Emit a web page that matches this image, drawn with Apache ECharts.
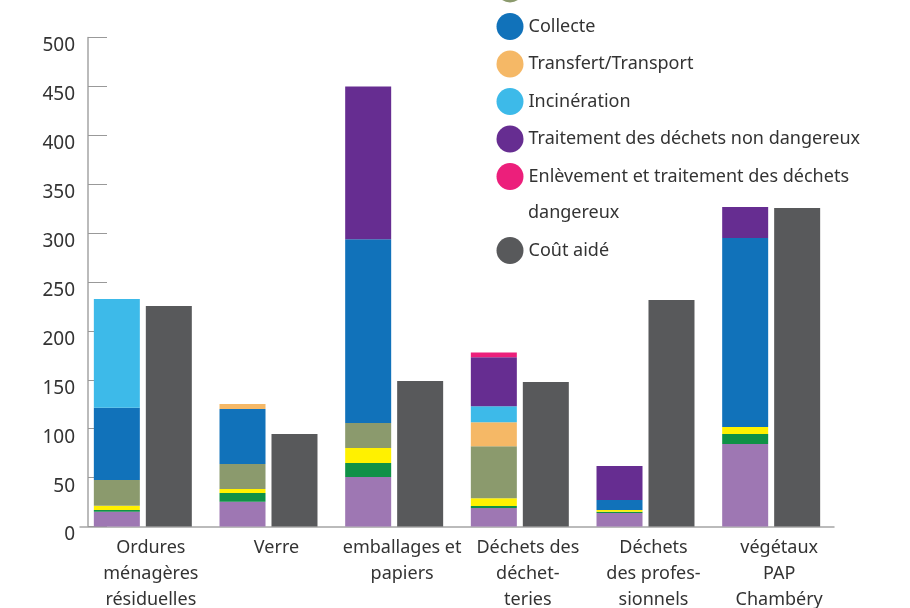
<!DOCTYPE html>
<html>
<head>
<meta charset="utf-8">
<script src="https://cdn.jsdelivr.net/npm/echarts@6/dist/echarts.min.js"></script>
<style>
  html, body { margin: 0; padding: 0; background: #fff; }
  #chart { width: 910px; height: 608px; }
</style>
</head>
<body>
<div id="chart"></div>
<script>
// catégories (axe des x)
var categories = [
  "Ordures\nménagères\nrésiduelles",
  "Verre",
  "emballages et\npapiers",
  "Déchets des\ndéchet-\nteries",
  "Déchets\ndes profes-\nsionnels",
  "végétaux\nPAP\nChambéry"
];

// postes de coût empilés (de bas en haut)
var structure     = [15.1, 25.4, 50.6, 18.9, 13.8, 84.4];
var communication = [1.8, 8.9, 14.3, 2.0, 1.3, 10.2];
var prevention    = [4.4, 4.0, 15.4, 8.0, 1.8, 7.1];
var precollecte   = [26.2, 25.6, 25.5, 53.2, 0, 0];
var collecte      = [74.0, 56.2, 188.0, 0, 10.2, 193.3];
var transfert     = [0, 5.2, 0, 24.5, 0, 0];
var incineration  = [111.0, 0, 0, 16.4, 0, 0];
var traitementND  = [0, 0, 156.0, 50.0, 34.8, 31.7];
var dangereux     = [0, 0, 0, 5.0, 0, 0];
// coût aidé
var coutAide      = [225.5, 94.6, 148.8, 147.7, 231.6, 325.7];

var yTicks = { min: 0, max: 500, interval: 50 };

var stacked = [
  { name: "Charges de structure", data: structure, color: "#9e77b3" },
  { name: "Communication", data: communication, color: "#0f9146" },
  { name: "Prévention", data: prevention, color: "#fff100" },
  { name: "Pré-collecte", data: precollecte, color: "#8b9a6d" },
  { name: "Collecte", data: collecte, color: "#1172ba" },
  { name: "Transfert/Transport", data: transfert, color: "#f5b866" },
  { name: "Incinération", data: incineration, color: "#3dbae9" },
  { name: "Traitement des déchets non dangereux", data: traitementND, color: "#662d91" },
  { name: "Enlèvement et traitement des déchets dangereux", data: dangereux, color: "#ec1f7b" }
];

var font = "Noto Sans";
var textColor = "#333";
var axisColor = "#a5a5a5";

var series = stacked.map(function (s) {
  return {
    name: s.name,
    type: "bar",
    stack: "cout",
    data: s.data,
    barWidth: 46,
    barGap: "13%",
    itemStyle: { color: s.color },
    emphasis: { disabled: true }
  };
});
series.push({
  name: "Coût aidé",
  type: "bar",
  data: coutAide,
  barWidth: 46,
  barGap: "13%",
  itemStyle: { color: "#58595b" },
  emphasis: { disabled: true }
});

var chart = echarts.init(document.getElementById("chart"));

var legendText = { fontFamily: font, fontSize: 18, color: "#333" };

var option = {
  animation: false,
  textStyle: { fontFamily: font },
  grid: { left: 80, right: 76, top: 37.5, bottom: 81.5, outerBoundsMode: "none" },
  legend: [
    {
      orient: "vertical",
      left: 496.5,
      top: -24.5,
      padding: 0,
      icon: "circle",
      itemWidth: 27,
      itemHeight: 27,
      itemGap: 10.5,
      data: stacked.slice(3).map(function (s) { return s.name; }),
      formatter: function (name) {
        return name.indexOf("Enlèvement") === 0 ? "Enlèvement et traitement des déchets" : name;
      },
      textStyle: legendText
    },
    {
      orient: "vertical",
      left: 496.5,
      top: 237,
      padding: 0,
      icon: "circle",
      itemWidth: 27,
      itemHeight: 27,
      data: ["Coût aidé"],
      textStyle: legendText
    }
  ],
  graphic: [
    {
      type: "text",
      left: 528,
      top: 204,
      style: { text: "dangereux", font: "18px 'Noto Sans'", fill: "#333" }
    }
  ],
  xAxis: {
    type: "category",
    data: categories,
    axisLine: { lineStyle: { color: axisColor, width: 1.5 } },
    axisTick: { inside: true, length: 5, lineStyle: { color: "#888" } },
    axisLabel: {
      interval: 0,
      fontSize: 18,
      lineHeight: 26,
      color: textColor,
      margin: 8.5,
      padding: [0, 0, 0, 16]
    }
  },
  yAxis: {
    type: "value",
    min: yTicks.min,
    max: yTicks.max,
    interval: yTicks.interval,
    offset: -8,
    axisLine: { show: true, lineStyle: { color: axisColor, width: 1.5 } },
    axisTick: { show: true, inside: true, length: 19, lineStyle: { color: "#999" } },
    splitLine: { show: false },
    axisLabel: {
      fontSize: 19,
      color: textColor,
      margin: 13,
      verticalAlign: "top",
      lineHeight: 17
    }
  },
  series: series
};

chart.setOption(option);
</script>
</body>
</html>
